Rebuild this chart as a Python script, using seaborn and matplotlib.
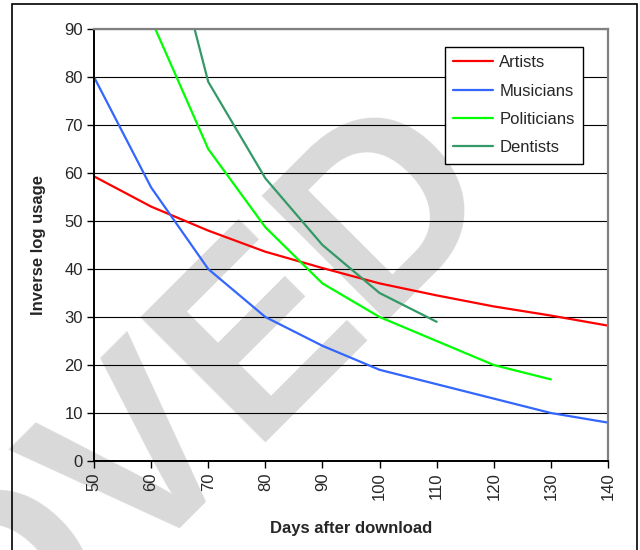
import pandas as pd
import matplotlib
matplotlib.use("Agg")
import matplotlib.pyplot as plt
import seaborn as sns
from matplotlib.patches import Rectangle

sns.set_style("white")
plt.rcParams['font.family'] = ['Liberation Sans', 'DejaVu Sans']

# --- data ---
days = [50, 60, 70, 80, 90, 100, 110, 120, 130, 140]
artists = [59.3, 53, 48, 43.6, 40.2, 37, 34.5, 32.2, 30.3, 28.2]
musicians = [80, 57, 40, 30, 24, 19, 16, 13, 10, 8]
pol_days = [60, 70, 80, 90, 100, 110, 120, 130]
politicians = [92, 65, 48.7, 37, 30, 25, 20, 17]
den_days = [60, 70, 80, 90, 100, 110]
dentists = [125, 79, 58.9, 45, 35, 29]

series = ['Artists', 'Musicians', 'Politicians', 'Dentists']
colors = ['#FF0000', '#3366FF', '#00FF00', '#339966']

frames = [
    pd.DataFrame({'Days': days, 'Usage': artists, 'Group': 'Artists'}),
    pd.DataFrame({'Days': days, 'Usage': musicians, 'Group': 'Musicians'}),
    pd.DataFrame({'Days': pol_days, 'Usage': politicians, 'Group': 'Politicians'}),
    pd.DataFrame({'Days': den_days, 'Usage': dentists, 'Group': 'Dentists'}),
]
df = pd.concat(frames, ignore_index=True)

W, H = 640, 550
fig = plt.figure(figsize=(6.4, 5.5), dpi=100)
ax = fig.add_axes([94 / W, 1 - 461 / H, (608 - 94) / W, (461 - 29) / H])
ax.patch.set_alpha(0)
ax.set_zorder(1)

# grey watermark sitting behind the plot
fig.text(505 / W, 1 - 197 / H, 'APPROVED', fontsize=185, fontweight='bold',
         color='#d9d9d9', rotation=45, rotation_mode='anchor',
         ha='right', va='baseline', zorder=0)

# outer frame round the whole chart
fig.patches.append(Rectangle((12 / W, -0.02), (637 - 12) / W, 1 - 4 / H + 0.02,
                             transform=fig.transFigure, fill=False,
                             edgecolor='black', linewidth=1.2))

sns.lineplot(data=df, x='Days', y='Usage', hue='Group', hue_order=series,
             palette=colors, linewidth=1.6, ax=ax, sort=False)

ax.set_xlim(50, 140)
ax.set_ylim(0, 90)
ax.set_xticks(range(50, 141, 10))
ax.set_yticks(range(0, 91, 10))
ax.yaxis.grid(True, color='black', linewidth=0.8)
ax.set_axisbelow(True)
ax.tick_params(axis='both', direction='out', length=5, width=1, color='black',
               labelsize=12, left=True, bottom=True, pad=3)
plt.setp(ax.get_xticklabels(), rotation=90)

for side in ['top', 'right']:
    ax.spines[side].set_color('#808080')
    ax.spines[side].set_linewidth(1.6)
for side in ['left', 'bottom']:
    ax.spines[side].set_color('black')
    ax.spines[side].set_linewidth(1.4)

ax.set_xlabel('Days after download', fontsize=12, fontweight='bold', labelpad=15)
ax.set_ylabel('Inverse log usage', fontsize=12, fontweight='bold', labelpad=13)

leg = ax.legend(loc='upper right', bbox_to_anchor=(583 / W, 1 - 47 / H),
                bbox_transform=fig.transFigure, borderaxespad=0,
                fontsize=12, frameon=True, fancybox=False, edgecolor='black',
                handlelength=2.4, handletextpad=0.35, borderpad=0.5,
                labelspacing=0.8)
leg.get_frame().set_linewidth(1)
leg.get_frame().set_alpha(1)

fig.savefig('out.png', dpi=100)
